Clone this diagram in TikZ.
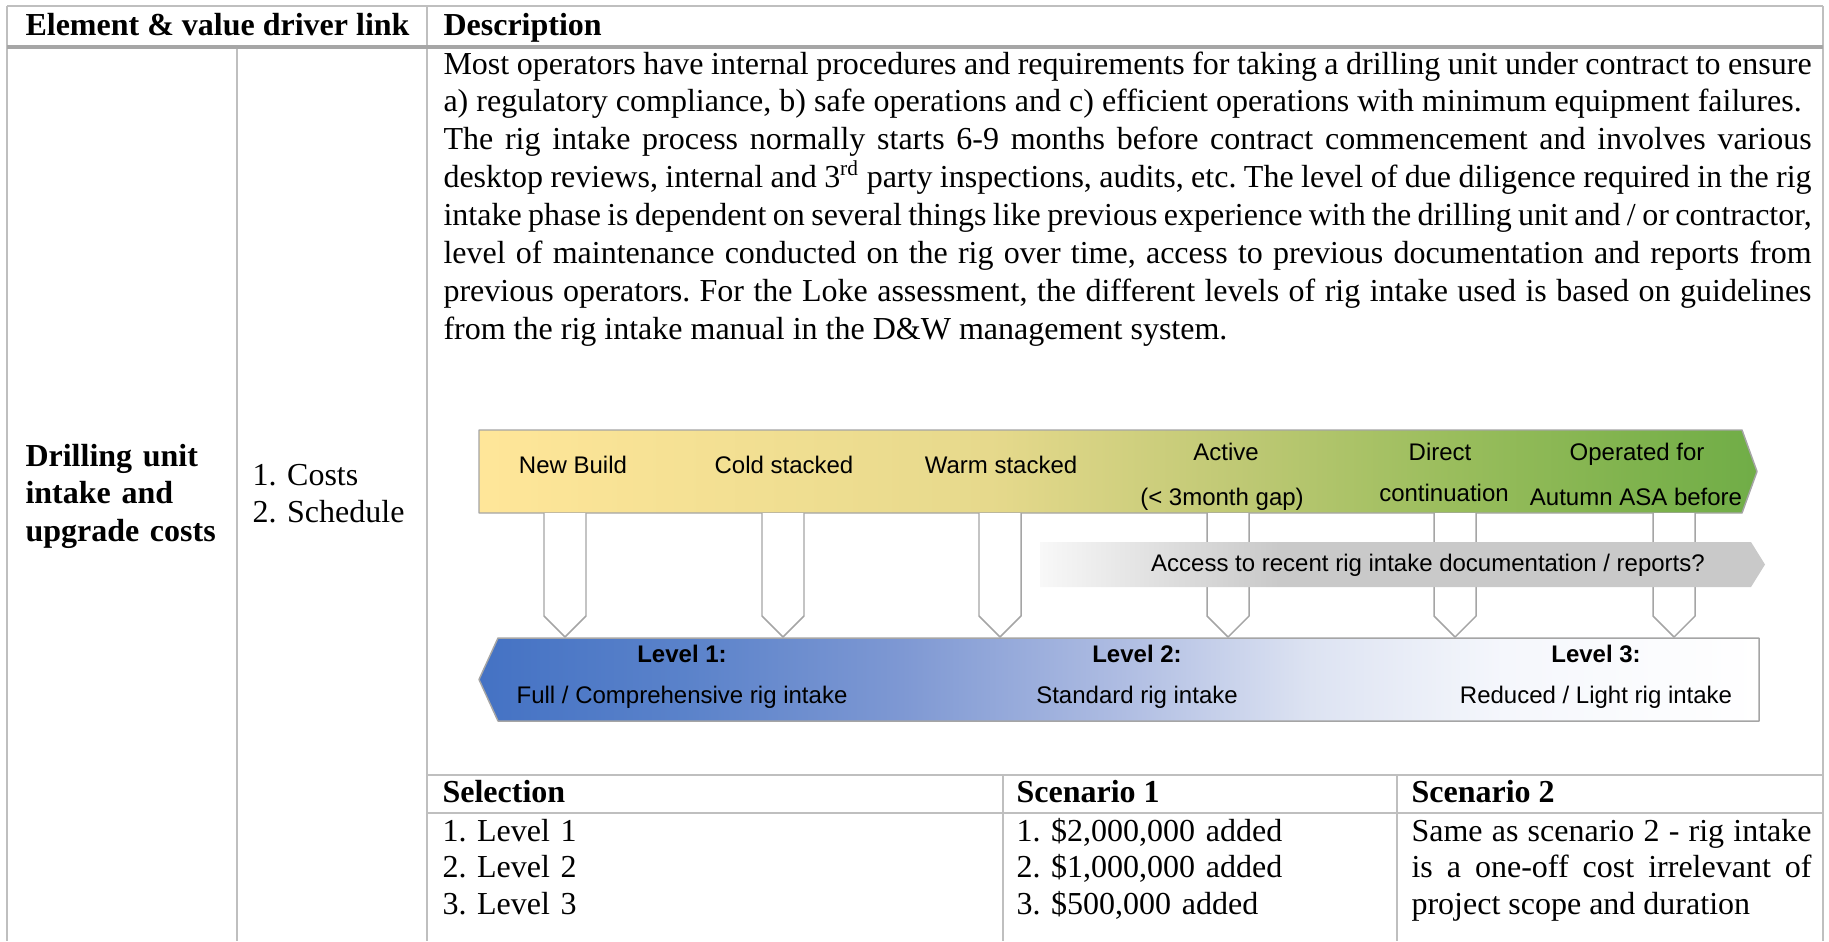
\documentclass[tikz,border=0pt]{standalone}
\usepackage{fontspec}
\setmainfont{Liberation Serif}
\setsansfont{Liberation Sans}
\frenchspacing
\definecolor{tablegray}{HTML}{BFBFBF}
\definecolor{headgray}{HTML}{A6A6A6}
\definecolor{edgegray}{HTML}{A5A5A5}
\definecolor{banA}{HTML}{FFE699}
\definecolor{banB}{HTML}{E6D98C}
\definecolor{banC}{HTML}{C0C975}
\definecolor{banD}{HTML}{9CBE5E}
\definecolor{banE}{HTML}{80B34E}
\definecolor{banF}{HTML}{70AD47}
\definecolor{lvA}{HTML}{4472C4}
\definecolor{lvB}{HTML}{5A82CA}
\definecolor{lvC}{HTML}{7E98D3}
\definecolor{lvD}{HTML}{AEBCE2}
\definecolor{lvE}{HTML}{DDE3F2}
\definecolor{lvF}{HTML}{F5F7FC}
\definecolor{accA}{HTML}{F8F8F8}
\definecolor{accB}{HTML}{DDDDDD}
\definecolor{accC}{HTML}{C9C9C9}
\pgfdeclarehorizontalshading{bannershade}{100bp}{color(0bp)=(banA); color(25bp)=(banA); color(45bp)=(banB); color(54.5bp)=(banC); color(62.5bp)=(banD); color(70bp)=(banE); color(75bp)=(banF); color(100bp)=(banF)}
\pgfdeclarehorizontalshading{levelshade}{100bp}{color(0bp)=(lvA); color(25bp)=(lvA); color(33bp)=(lvB); color(41.5bp)=(lvC); color(50bp)=(lvD); color(57.5bp)=(lvE); color(65bp)=(lvF); color(75bp)=(white); color(100bp)=(white)}
\pgfdeclarehorizontalshading{accessshade}{100bp}{color(0bp)=(accA); color(25bp)=(accA); color(34bp)=(accB); color(41.5bp)=(accC); color(100bp)=(accC)}
\newcommand\bodyfont{\fontsize{12}{14.2}\selectfont}
\newcommand\subfont{\fontsize{12}{13.8}\selectfont}
\newcommand\figfont{\sffamily\fontsize{9}{10.8}\selectfont}
\begin{document}
\begin{tikzpicture}[x=0.375pt,y=-0.375pt,line join=bevel,
    tabline/.style={draw=tablegray,line width=0.75pt},
    headline/.style={draw=headgray,line width=1.5pt},
    body/.style={font=\bodyfont,inner sep=0pt,anchor=base west},
    bodyb/.style={body,font=\bodyfont\bfseries},
    subtext/.style={body,font=\subfont},
    stage/.style={font=\figfont,inner sep=0pt,anchor=base},
    stageb/.style={stage,font=\figfont\bfseries},
    banner/.style={shading=bannershade,draw=edgegray,line width=0.55pt},
    levels/.style={shading=levelshade,draw=edgegray,line width=0.55pt},
    ptr/.style={draw=edgegray,fill=white,line width=0.55pt},
]
    \useasboundingbox (0,0) rectangle (1829,941);
    %% table rules
    \draw [tabline] (7,6) -- (1823,6);
    \draw [tabline] (7,6) -- (7,941);
    \draw [tabline] (1823,6) -- (1823,941);
    \draw [tabline] (427,6) -- (427,941);
    \draw [tabline] (237,46.5) -- (237,941);
    \draw [tabline] (427,775) -- (1823,775);
    \draw [tabline] (427,813) -- (1823,813);
    \draw [tabline] (1003,775) -- (1003,941);
    \draw [tabline] (1397,775) -- (1397,941);
    \draw [headline] (7,46.5) -- (1823,46.5);
    %% header and row labels
    \node (hdrelement) at (25,35) [bodyb] {Element \& value driver link};
    \node (hdrdesc) at (443,35) [bodyb] {Description};
    \node (element) at (25,466) [bodyb,text width=80pt,align=left] {Drilling unit\\intake and\\upgrade costs};
    \node (driver) at (252,485) [body,text width=70pt,align=left] {1. Costs\\2. Schedule};
    \node (desc) at (443,74) [body,text width=513pt,align=justify] {Most operators have internal procedures and requirements for taking a drilling unit under contract to ensure\linebreak a) regulatory compliance, b) safe operations and c) efficient operations with minimum equipment failures.\par The rig intake process normally starts 6-9 months before contract commencement and involves various\linebreak desktop reviews, internal and 3\textsuperscript{rd} party inspections, audits, etc. The level of due diligence required in the rig\linebreak intake phase is dependent on several things like previous experience with the drilling unit and / or contractor,\linebreak level of maintenance conducted on the rig over time, access to previous documentation and reports from\linebreak previous operators. For the Loke assessment, the different levels of rig intake used is based on guidelines\linebreak from the rig intake manual in the D\&W management system.};
    %% rig status banner
    \shadedraw [banner] (479,430) -- (1742,430) -- (1757,471.5) -- (1742,513) -- (479,513) -- cycle;
    \draw [ptr] (544,513) -- (544,616) -- (565,637) -- (586,616) -- (586,513);
    \draw [ptr] (762,513) -- (762,616) -- (783,637) -- (804,616) -- (804,513);
    \draw [ptr] (979,513) -- (979,616) -- (1000,637) -- (1021,616) -- (1021,513);
    \draw [ptr] (1207,513) -- (1207,616) -- (1228,637) -- (1249,616) -- (1249,513);
    \draw [ptr] (1434,513) -- (1434,616) -- (1455,637) -- (1476,616) -- (1476,513);
    \draw [ptr] (1653,513) -- (1653,616) -- (1674,637) -- (1695,616) -- (1695,513);
    \node (newbuild) at (573,473) [stage] {New Build};
    \node (cold) at (784,473) [stage] {Cold stacked};
    \node (warm) at (1001,473) [stage] {Warm stacked};
    \node (active) at (1226,460) [stage] {Active};
    \node (activegap) at (1222,505) [stage] {(< 3month gap)};
    \node (direct) at (1440,460) [stage] {Direct};
    \node (directcont) at (1444,501) [stage] {continuation};
    \node (operated) at (1637,460) [stage] {Operated for};
    \node (operatedasa) at (1636,505) [stage] {Autumn ASA before};
    %% documentation arrow
    \shade [shading=accessshade] (1040,542) -- (1751,542) -- (1765,564.5) -- (1751,587) -- (1040,587) -- cycle;
    \node (access) at (1428,571) [stage] {Access to recent rig intake documentation / reports?};
    %% intake levels
    \shadedraw [levels] (498,638) -- (1759,638) -- (1759,721) -- (498,721) -- (479,679.5) -- cycle;
    \node (lvl1) at (682,662) [stageb] {Level 1:};
    \node (lvl1txt) at (682,703) [stage] {Full / Comprehensive rig intake};
    \node (lvl2) at (1137,662) [stageb] {Level 2:};
    \node (lvl2txt) at (1137,703) [stage] {Standard rig intake};
    \node (lvl3) at (1596,662) [stageb] {Level 3:};
    \node (lvl3txt) at (1596,703) [stage] {Reduced / Light rig intake};
    %% selection table
    \node (selhdr) at (442,802) [bodyb] {Selection};
    \node (sc1hdr) at (1016,802) [bodyb] {Scenario 1};
    \node (sc2hdr) at (1411,802) [bodyb] {Scenario 2};
    \node (sellist) at (442,841) [subtext,text width=150pt,align=left] {1. Level 1\\2. Level 2\\3. Level 3};
    \node (sc1list) at (1016,841) [subtext,text width=140pt,align=left] {1. \$2,000,000 added\\2. \$1,000,000 added\\3. \$500,000 added};
    \node (sc2txt) at (1411,841) [subtext,text width=150pt,align=justify] {Same as scenario 2 - rig intake\linebreak is a one-off cost irrelevant of\linebreak project scope and duration};
    %
\end{tikzpicture}
\end{document}
